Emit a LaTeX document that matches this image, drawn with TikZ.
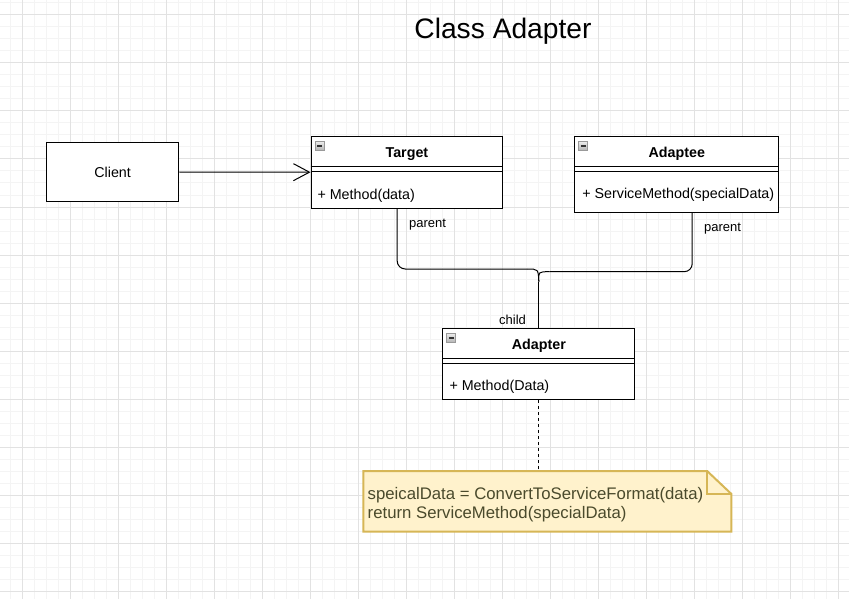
\documentclass[tikz,border=0pt]{standalone}
\usepackage{fontspec}
\setmainfont{Liberation Sans}
\usetikzlibrary{arrows.meta}
\definecolor{gridmajor}{HTML}{E2E2E2}
\definecolor{gridminor}{HTML}{F4F4F4}
\definecolor{notefill}{HTML}{FFF2CC}
\definecolor{notedraw}{HTML}{D6B656}
\definecolor{notetextc}{HTML}{4A4A2C}
\begin{document}
\begin{tikzpicture}[x=1pt,y=-1pt,
  umlbox/.style={draw, line width=1pt, fill=white, rectangle, inner sep=0pt, anchor=north west},
  umltitle/.style={font=\bfseries\fontsize{14.3}{17}\selectfont, inner sep=0pt},
  umlmember/.style={font=\fontsize{14.3}{17}\selectfont, inner sep=0pt, anchor=west},
  linklabel/.style={font=\fontsize{13}{15}\selectfont, inner sep=0pt},
  conn/.style={line width=1pt},
  sepline/.style={line width=1pt},
  iconbox/.style={draw=gray!80, top color=gray!15, bottom color=gray!60, line width=0.7pt}
]
\fill[white] (0,0) rectangle (849,599);
\useasboundingbox (0,0) rectangle (849,599);
% grid
\foreach \x in {10,22,...,850} \draw[gridminor, line width=1pt] (\x,0) -- (\x,599);
\foreach \y in {3,15,...,599} \draw[gridminor, line width=1pt] (0,\y) -- (849,\y);
\foreach \x in {22,70,...,850} \draw[gridmajor, line width=1pt] (\x,0) -- (\x,599);
\foreach \y in {15,63,...,599} \draw[gridmajor, line width=1pt] (0,\y) -- (849,\y);

% title
\node[font=\fontsize{28.2}{32}\selectfont, inner sep=0pt] (title) at (503,31) {Class Adapter};

% client
\node[umlbox, minimum width=132.3pt, minimum height=59.6pt] (client) at (46,141.7) {};
\node[font=\fontsize{14.3}{17}\selectfont, inner sep=0pt] (clientt) at (client.center) {Client};

% target
\node[umlbox, minimum width=191.8pt, minimum height=72pt] (target) at (310.5,135.7) {};
\node[umltitle] (targett) at ([yshift=-18.3pt]target.north) {Target};
\node[umlmember] (targetm) at ([xshift=6.8pt,yshift=-59.6pt]target.north west) {+ Method(data)};

% adaptee
\node[umlbox, minimum width=204pt, minimum height=76.3pt] (adaptee) at (574.3,135.7) {};
\node[umltitle] (adapteet) at ([yshift=-18.3pt]adaptee.north) {Adaptee};
\node[umlmember] (adapteem) at ([xshift=7.8pt,yshift=-59.4pt]adaptee.north west) {+ ServiceMethod(specialData)};

% adapter
\node[umlbox, minimum width=192pt, minimum height=71.6pt] (adapter) at (442.3,327.7) {};
\node[umltitle] (adaptert) at ([yshift=-18.6pt]adapter.north) {Adapter};
\node[umlmember] (adapterm) at ([xshift=7pt,yshift=-59.3pt]adapter.north west) {+ Method(Data)};

% separators and icons
\foreach \n in {target,adaptee,adapter}{
  \draw[sepline] ([yshift=-31pt]\n.north west) -- ([yshift=-31pt]\n.north east);
  \draw[sepline] ([yshift=-35.5pt]\n.north west) -- ([yshift=-35.5pt]\n.north east);
  \draw[iconbox] ([xshift=4.5pt,yshift=-5.8pt]\n.north west) rectangle ++(9,9);
  \draw[line width=1.2pt, black!80] ([xshift=6.6pt,yshift=-10.3pt]\n.north west) -- ++(4.8,0);
}

% client -> target
\draw[conn, -{Straight Barb[length=16pt,width=17pt,line width=1pt]}] (client.east) -- (target.west);

% generalisation connectors
\coordinate (tp) at ([xshift=-9.7pt]target.south);
\coordinate (ap) at ([xshift=15.4pt]adaptee.south);
\coordinate (junc) at ([yshift=46pt]adapter.north);
\draw[conn, rounded corners=8pt] (tp) |- (527,269);
\draw[conn] (527,269) .. controls (538.3,269) .. (junc);
\draw[conn, rounded corners=8pt] (ap) |- (549.5,271.7);
\draw[conn] (549.5,271.7) .. controls (538.3,271.7) .. (junc);
\draw[conn] (junc) -- (adapter.north);

\node[linklabel, anchor=west] (lp1) at (409,224.7) {parent};
\node[linklabel, anchor=west] (lp2) at (704,229) {parent};
\node[linklabel] (lc) at (512.5,320) {child};

% note
\node[minimum width=367.7pt, minimum height=60.3pt, inner sep=0pt, anchor=north west] (note) at (363.3,471) {};
\draw[notedraw, fill=notefill, line width=2pt, line join=miter]
  (note.north west) -- ([xshift=-24.3pt]note.north east) -- ([yshift=-23pt]note.north east)
  -- (note.south east) -- (note.south west) -- cycle;
\draw[notedraw, line width=2pt] ([xshift=-24.3pt]note.north east) -- ([xshift=-24.3pt,yshift=-23pt]note.north east) -- ([yshift=-23pt]note.north east);
\node[anchor=west, align=left, inner sep=0pt, text=notetextc, font=\fontsize{16.75}{18.4}\selectfont] (notetext) at (367.5,504.5)
  {speicalData = ConvertToServiceFormat(data)\\return ServiceMethod(specialData)};

\coordinate (notetop) at (adapter.south |- note.north);
\draw[conn, dash pattern=on 3pt off 3pt] (adapter.south) -- (notetop);
\end{tikzpicture}
\end{document}
